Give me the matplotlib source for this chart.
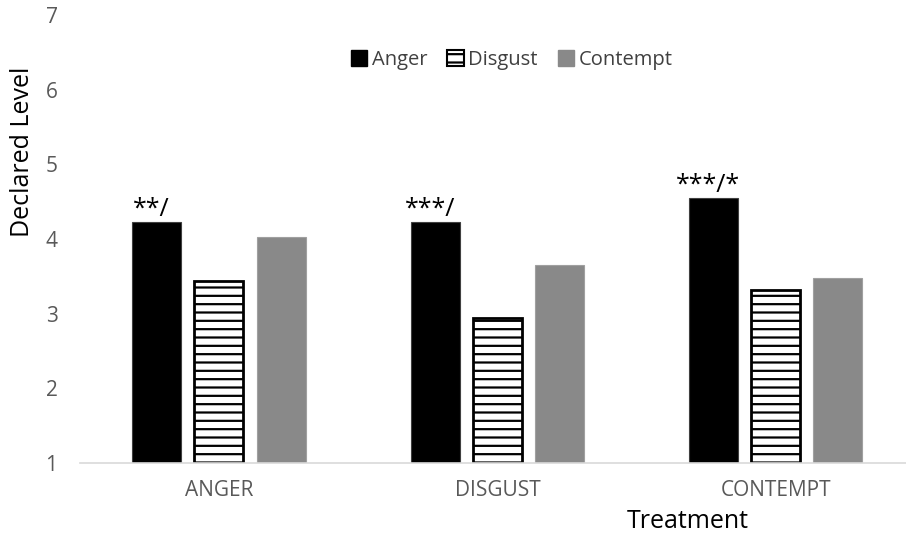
import matplotlib
import numpy as np

matplotlib.use("Agg")
import matplotlib.pyplot as plt
from matplotlib.patches import Patch

plt.rcParams["font.family"] = ["Open Sans", "DejaVu Sans"]
plt.rcParams["hatch.linewidth"] = 1.6

treatments = ["ANGER", "DISGUST", "CONTEMPT"]
emotions = ["Anger", "Disgust", "Contempt"]
anger = [4.23, 4.23, 4.55]
disgust = [3.44, 2.94, 3.32]
contempt = [4.03, 3.65, 3.48]
stars = ["**/", "***/", "***/*"]

fig = plt.figure(figsize=(9.06, 5.35), dpi=100)
ax = fig.add_axes([0.088, 0.1346, 0.922, 0.8374])

x = np.arange(len(treatments))
width = 0.176
step = 0.223

b_anger = ax.bar(x - step, np.array(anger) - 1, width, bottom=1, color="black",
                 edgecolor="#404040", linewidth=0.8)
ax.bar(x, np.array(disgust) - 1, width, bottom=1, color="white",
       edgecolor="black", linewidth=2, hatch="--")
ax.bar(x + step, np.array(contempt) - 1, width, bottom=1, color="#898989",
       edgecolor="#a0a0a0", linewidth=0.8)

# significance marks above the Anger bars
for bar, s in zip(b_anger, stars):
    ax.text(bar.get_x() + bar.get_width() / 2 - 0.02, bar.get_y() + bar.get_height() + 0.0,
            s, ha="center", va="bottom", fontsize=18, color="black")

ax.set_xlim(-0.5, 2.5)
ax.set_ylim(1, 7)
ax.set_yticks(range(1, 8))
ax.set_xticks(x)
ax.set_xticklabels(treatments)
ax.tick_params(axis="both", length=0, labelsize=15, labelcolor="#595959")
ax.tick_params(axis="y", pad=16)
ax.tick_params(axis="x", pad=12)
for side in ["top", "right", "left"]:
    ax.spines[side].set_visible(False)
ax.spines["bottom"].set_color("#d9d9d9")
ax.spines["bottom"].set_linewidth(1.2)

fig.text(0.025, 0.717, "Declared Level", rotation=90, ha="center", va="center",
         fontsize=18, color="black")
fig.text(0.759, 0.026, "Treatment", ha="center", va="center", fontsize=18, color="black")

handles = [
    Patch(facecolor="black", edgecolor="black", label=emotions[0]),
    Patch(facecolor="white", edgecolor="black", hatch="--", linewidth=1.5, label=emotions[1]),
    Patch(facecolor="#898989", edgecolor="#898989", label=emotions[2]),
]
fig.legend(handles=handles, loc="center", bbox_to_anchor=(0.5646, 0.888), ncol=3,
           frameon=False, fontsize=14.5, handlelength=0.83, handleheight=0.83,
           handletextpad=0.2, columnspacing=1.0, labelcolor="#404040")

plt.savefig("out.png", dpi=100)
